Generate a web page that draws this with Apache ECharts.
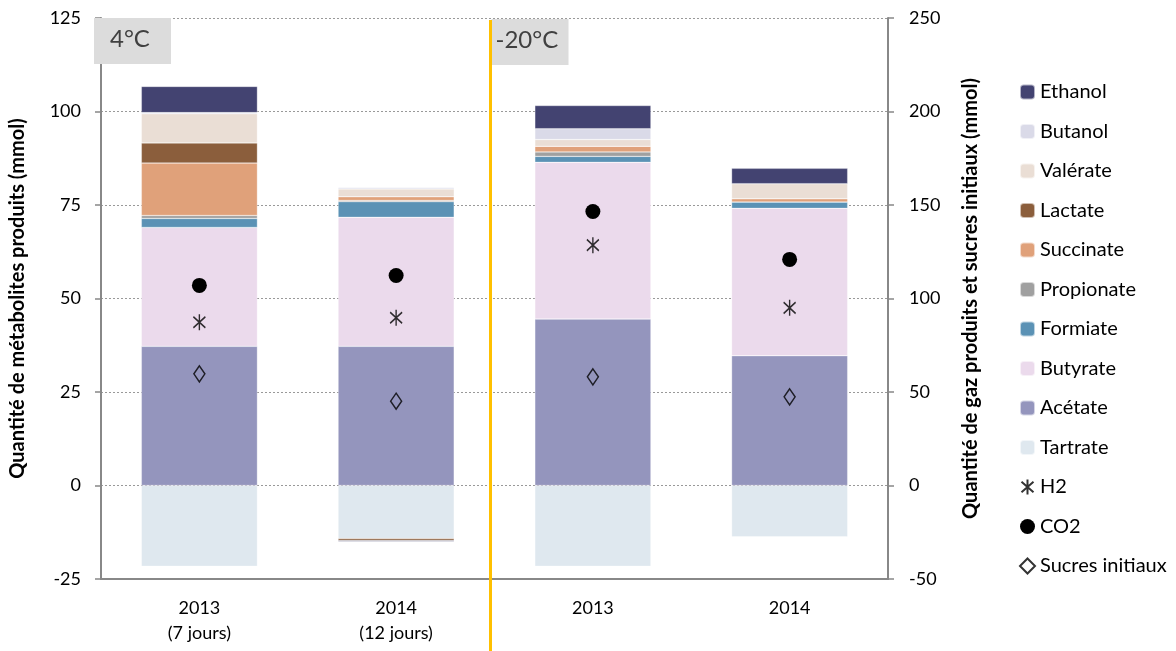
<!DOCTYPE html>
<html><head><meta charset="utf-8">
<script src="https://cdn.jsdelivr.net/npm/echarts@6/dist/echarts.min.js"></script>
<style>html,body{margin:0;padding:0;background:#fff}#c{width:1176px;height:651px}</style>
</head><body><div id="c"></div>
<script>
const categories = ['2013\n(7 jours)', '2014\n(12 jours)', '2013', '2014'];
const tartrate   = [-21.6, -14.2, -21.6, -13.7];
const acetate    = [37.2, 37.2, 44.5, 34.7];
const butyrate   = [31.8, 34.5, 41.9, 39.4];
const formiate   = [2.4, 4.2, 1.6, 1.7];
const propionate = [0.8, 0.3, 1.2, 0];
const succinate  = [14.0, 1.0, 1.5, 0.9];
const lactate    = [5.4, -0.5, 0, 0];
const valerate   = [7.8, 2.1, 1.8, 4.0];
const butanol    = [0.3, 0.4, 2.9, 0];
const ethanol    = [7.0, -0.3, 6.2, 4.1];
const h2         = [87.3, 89.7, 128.5, 95.0];
const co2        = [107, 112.3, 146.5, 120.9];
const sucres     = [59.7, 45.1, 58.1, 47.4];
const tempLabels = ['4°C', '-20°C'];

const FONT = 'Lato';
const chart = echarts.init(document.getElementById('c'));
const G = {left: 93, right: 288, top: 18, bottom: 72};
const plotW = 1176 - G.left - G.right;

function bar(name, data, color) {
  return {name, type: 'bar', stack: 'm', data, barWidth: '59%',
    itemStyle: {color, borderColor: 'rgba(255,255,255,0.6)', borderWidth: 0.5}};
}
const star = 'path://M0,-10L0,10M-8,-7L8,7M-8,7L8,-7';

chart.setOption({
  animation: false,
  textStyle: {fontFamily: FONT},
  grid: G,
  legend: {
    orient: 'vertical', left: 1014, top: 76, itemWidth: 15, itemHeight: 15, itemGap: 17.5,
    textStyle: {fontFamily: FONT, fontSize: 20, lineHeight: 22, color: '#000'},
    data: ['Ethanol', 'Butanol', 'Valérate', 'Lactate', 'Succinate', 'Propionate', 'Formiate',
           'Butyrate', 'Acétate', 'Tartrate', 'H2', 'CO2', 'Sucres initiaux']
  },
  xAxis: {
    type: 'category', data: categories, boundaryGap: true,
    axisLine: {onZero: false, lineStyle: {color: '#888', width: 2}},
    axisTick: {length: 6, lineStyle: {color: '#888', width: 1.5}},
    axisLabel: {fontFamily: FONT, fontSize: 18, color: '#000', lineHeight: 25, margin: 17}
  },
  yAxis: [{
    type: 'value', min: -25, max: 125, interval: 25,
    name: 'Quantité de métabolites produits (mmol)', nameLocation: 'middle', nameGap: 73, nameRotate: 90,
    nameTextStyle: {fontFamily: FONT, fontSize: 20, fontWeight: 'bold', color: '#000'},
    axisLine: {show: true, lineStyle: {color: '#888', width: 2}},
    axisTick: {show: true, length: 6, lineStyle: {color: '#888', width: 1.5}},
    axisLabel: {fontFamily: FONT, fontSize: 18, color: '#000', margin: 20},
    splitLine: {show: true, lineStyle: {color: '#999', type: [2, 2], width: 1}}
  }, {
    type: 'value', min: -50, max: 250, interval: 50, position: 'right',
    name: 'Quantité de gaz produits et sucres initiaux (mmol)', nameLocation: 'middle', nameGap: 73, nameRotate: 90,
    nameTextStyle: {fontFamily: FONT, fontSize: 20, fontWeight: 'bold', color: '#000'},
    axisLine: {show: true, lineStyle: {color: '#888', width: 2}},
    axisTick: {show: true, length: 6, lineStyle: {color: '#888', width: 1.5}},
    axisLabel: {fontFamily: FONT, fontSize: 18, color: '#000', margin: 21},
    splitLine: {show: false}
  }],
  series: [
    bar('Tartrate', tartrate, '#DFE8EF'),
    bar('Acétate', acetate, '#9495BD'),
    bar('Butyrate', butyrate, '#EBDAEC'),
    bar('Formiate', formiate, '#5B92B5'),
    bar('Propionate', propionate, '#A0A0A0'),
    bar('Succinate', succinate, '#E0A17A'),
    bar('Lactate', lactate, '#8B5E3C'),
    bar('Valérate', valerate, '#EADED5'),
    bar('Butanol', butanol, '#DADAE8'),
    bar('Ethanol', ethanol, '#434371'),
    {name: 'H2', type: 'scatter', yAxisIndex: 1, data: h2, symbol: star, symbolSize: [12, 16], z: 5,
      itemStyle: {color: 'transparent', borderColor: '#000', borderWidth: 1.6}},
    {name: 'CO2', type: 'scatter', yAxisIndex: 1, data: co2, symbol: 'circle', symbolSize: 15, z: 5,
      itemStyle: {color: '#000', opacity: 1}},
    {name: 'Sucres initiaux', type: 'scatter', yAxisIndex: 1, data: sucres, symbol: 'diamond', symbolSize: [11, 16], z: 5,
      itemStyle: {color: 'transparent', borderColor: '#000', borderWidth: 1.5}}
  ],
  graphic: [
    {type: 'line', z: 10, shape: {x1: G.left + plotW / 2, y1: 20, x2: G.left + plotW / 2, y2: 651},
      style: {stroke: '#FFC000', lineWidth: 3}},
    {type: 'rect', z: 9, shape: {x: G.left + 1, y: 18, width: 77, height: 46}, style: {fill: '#DCDCDC'}},
    {type: 'text', z: 11, left: G.left + 17, top: 27, style: {text: tempLabels[0], fontFamily: FONT, fontSize: 24, fill: '#404040'}},
    {type: 'rect', z: 9, shape: {x: G.left + plotW / 2 + 1, y: 19, width: 77, height: 46}, style: {fill: '#DCDCDC'}},
    {type: 'text', z: 11, left: G.left + plotW / 2 + 5, top: 28, style: {text: tempLabels[1], fontFamily: FONT, fontSize: 24, fill: '#404040'}}
  ]
});
</script></body></html>
